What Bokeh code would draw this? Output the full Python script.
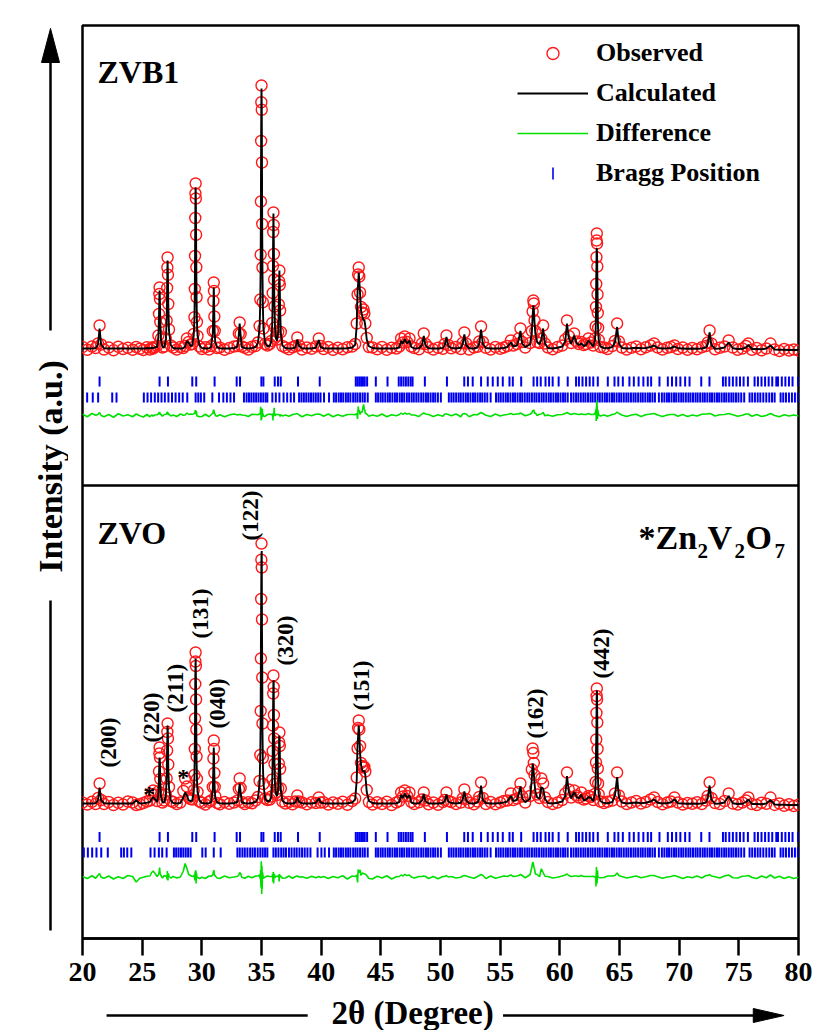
import numpy as np
from bokeh.plotting import figure
from bokeh.layouts import row, column
from bokeh.models import (Range1d, FixedTicker, Span, Label, Legend, LegendItem)
from bokeh.core.properties import value
from bokeh.embed import file_html
from bokeh.resources import INLINE

# ---------------- data ----------------
two_theta = [
    20.0, 20.4, 20.8, 21.1,
    21.30, 21.43, 21.56,
    21.8, 22.2, 22.6, 23.0, 23.4, 23.8, 24.2, 24.5, 24.8, 25.1, 25.4,
    25.65, 25.8, 25.92, 26.05,
    26.25, 26.36, 26.41, 26.44, 26.46, 26.49, 26.52, 26.58, 26.70, 26.85,
    26.98, 27.05, 27.09, 27.11, 27.13, 27.16, 27.19, 27.25, 27.40,
    27.6, 27.9, 28.2,
    28.45, 28.6, 28.75, 28.9, 29.05,
    29.20, 29.32, 29.38, 29.41, 29.43, 29.45, 29.465, 29.48, 29.50, 29.52, 29.54, 29.56, 29.59, 29.64, 29.80,
    30.0, 30.3, 30.6,
    30.78, 30.92, 30.97, 31.00, 31.02, 31.05, 31.08, 31.13, 31.28,
    31.5, 31.9, 32.3, 32.7,
    33.0, 33.1, 33.17, 33.25, 33.35,
    33.6, 33.9, 34.2, 34.5,
    34.70, 34.84, 34.90, 34.93, 34.95, 34.97, 34.985, 35.00, 35.02, 35.04, 35.06, 35.08, 35.11, 35.16, 35.30,
    35.5, 35.7,
    35.82, 35.90, 35.94, 35.96, 35.98, 36.00, 36.02, 36.04, 36.06, 36.09, 36.13, 36.20, 36.30,
    36.40, 36.45, 36.48, 36.50, 36.53, 36.56, 36.62, 36.75,
    37.0, 37.3, 37.6, 37.85,
    38.0, 38.15,
    38.4, 38.8, 39.2, 39.55,
    39.8, 39.95,
    40.2, 40.6, 41.0, 41.4, 41.8, 42.2, 42.6,
    42.85, 42.98, 43.05, 43.10, 43.15, 43.20, 43.26, 43.34, 43.44, 43.55, 43.62, 43.70, 43.82, 44.0,
    44.3, 44.7, 45.1, 45.5, 45.9, 46.3,
    46.55, 46.7, 46.85, 47.0, 47.2, 47.4, 47.55,
    47.8, 48.2,
    48.45, 48.6, 48.75,
    49.0, 49.4, 49.8, 50.2,
    50.35, 50.5, 50.65,
    50.9, 51.3, 51.7,
    51.85, 52.0, 52.15,
    52.4, 52.8, 53.1,
    53.25, 53.4, 53.55,
    53.8, 54.2, 54.6, 55.0, 55.3, 55.6,
    55.9, 56.1, 56.4, 56.55, 56.7, 56.85,
    57.1, 57.5, 57.65, 57.72, 57.78, 57.82, 57.88, 57.95, 58.1, 58.3, 58.45, 58.6, 58.75,
    59.0, 59.4, 59.8, 60.2,
    60.45, 60.6, 60.75, 60.95, 61.2, 61.4, 61.6, 61.8, 62.0, 62.2, 62.4, 62.6,
    62.80, 62.94, 63.00, 63.03, 63.05, 63.07, 63.085, 63.10, 63.12, 63.14, 63.16, 63.18, 63.21, 63.26, 63.40,
    63.7, 64.0, 64.4,
    64.62, 64.8, 64.95,
    65.2, 65.6, 66.0, 66.4, 66.8, 67.2, 67.6, 67.9, 68.2, 68.6, 69.0, 69.3,
    69.6,
    69.9, 70.3, 70.7, 71.1, 71.5, 71.9, 72.25,
    72.4, 72.55, 72.7,
    73.0, 73.4, 73.8,
    74.15,
    74.5, 74.9, 75.3,
    75.6, 75.8,
    76.1, 76.5, 76.9, 77.3,
    77.65,
    78.0, 78.4, 78.8, 79.2, 79.6, 80.0,
]

zvb1_obs = [
    106, 95, 108, 102,
    120, 192, 116,
    96, 104, 93, 107, 98, 103, 95, 106, 99, 94, 105,
    96, 104, 100, 106,
    110, 152, 238, 318, 344, 298, 206, 140, 104, 108,
    140, 212, 342, 424, 464, 395, 278, 176, 112,
    104, 96, 106,
    102, 110, 140, 126, 116,
    118, 158, 225, 338, 470, 622, 720, 760, 700, 555, 425, 305, 206, 150, 108,
    98, 105, 96,
    110, 170, 290, 364, 330, 228, 170, 124, 102,
    104, 95, 102, 108,
    110, 160, 204, 158, 108,
    103, 96, 107, 110,
    124, 190, 296, 475, 688, 930, 1085, 1152, 1055, 844, 598, 424, 285, 180, 118,
    112, 118,
    130, 202, 322, 430, 566, 644, 594, 478, 376, 268, 184, 148, 136,
    166, 276, 368, 412, 354, 252, 166, 110,
    104, 97, 105, 110,
    144, 112,
    96, 104, 99, 108,
    140, 110,
    98, 106, 95, 103, 97, 105, 108,
    118, 200, 316, 396, 424, 388, 324, 266, 244, 256, 240, 200, 142, 106,
    104, 97, 106, 95, 103, 100,
    108, 140, 124, 148, 126, 140, 108,
    102, 97,
    120, 160, 118,
    105, 96, 103, 99,
    118, 152, 114,
    101, 106, 98,
    122, 164, 120,
    96, 104, 107,
    128, 188, 126,
    103, 96, 106, 99, 104, 110,
    132, 112, 118, 140, 180, 126,
    104, 122, 170, 248, 292, 280, 212, 170, 126, 122, 140, 192, 120,
    104, 97, 106, 112,
    136, 212, 150, 122, 160, 128, 118, 126, 114, 118, 140, 124,
    112, 140, 188, 266, 358, 465, 532, 560, 520, 428, 316, 242, 182, 134, 106,
    104, 98, 110,
    130, 200, 128,
    104, 96, 103, 108, 97, 105, 112, 120, 104, 96, 103, 106,
    112,
    98, 104, 95, 102, 97, 105, 110,
    124, 172, 120,
    97, 103, 108,
    132,
    104, 95, 100,
    110, 120,
    95, 102, 93, 100,
    120,
    96, 90, 98, 92, 96, 92,
]

zvb1_calc = [
    100, 100, 100, 101,
    116, 180, 116,
    101, 100, 100, 100, 100, 100, 100, 100, 100, 100, 101,
    101, 102, 102, 104,
    107, 146, 228, 304, 332, 286, 204, 135, 107, 104,
    135, 206, 329, 410, 452, 382, 276, 170, 114,
    102, 100, 100,
    101, 108, 130, 122, 110,
    113, 152, 216, 325, 454, 602, 699, 744, 680, 551, 409, 293, 209, 152, 113,
    102, 100, 101,
    107, 161, 271, 344, 307, 222, 161, 124, 105,
    101, 100, 100, 102,
    108, 156, 200, 154, 106,
    102, 100, 102, 106,
    121, 183, 287, 440, 672, 950, 1067, 1140, 1070, 828, 570, 412, 277, 183, 121,
    108, 112,
    127, 197, 316, 450, 559, 640, 586, 478, 345, 262, 186, 143, 132,
    162, 272, 365, 412, 350, 256, 162, 112,
    102, 100, 101, 104,
    136, 110,
    101, 100, 100, 103,
    134, 106,
    101, 100, 100, 100, 100, 101, 104,
    115, 191, 330, 360, 404, 368, 320, 252, 230, 212, 214, 190, 136, 109,
    102, 100, 100, 100, 100, 101,
    104, 130, 120, 138, 120, 132, 106,
    100, 101,
    114, 150, 112,
    101, 100, 100, 102,
    112, 146, 110,
    102, 100, 103,
    116, 156, 114,
    101, 100, 104,
    120, 176, 118,
    102, 100, 100, 101, 102, 106,
    124, 108, 112, 134, 170, 120,
    105, 117, 160, 229, 272, 258, 203, 160, 126, 117, 134, 180, 121,
    102, 100, 103, 108,
    128, 200, 142, 118, 152, 122, 114, 120, 110, 114, 132, 120,
    108, 132, 172, 240, 380, 430, 500, 500, 480, 400, 330, 220, 168, 132, 108,
    102, 101, 106,
    124, 186, 120,
    102, 100, 101, 103, 101, 102, 106, 112, 102, 100, 101, 102,
    108,
    101, 100, 99, 100, 99, 100, 104,
    118, 164, 114,
    99, 100, 104,
    124,
    101, 98, 99,
    104, 114,
    98, 98, 97, 100,
    112,
    96, 95, 95, 94, 94, 94,
]

zvo_obs = [
    104, 96, 107, 98,
    122, 180, 114,
    98, 106, 94, 103, 96, 108, 104, 94, 97, 102, 108,
    112, 138, 152, 136,
    110, 148, 228, 300, 324, 284, 198, 136, 104, 112,
    136, 200, 312, 386, 420, 360, 256, 166, 110,
    106, 98, 104,
    150, 200, 168, 124, 118,
    116, 152, 214, 318, 440, 578, 668, 704, 650, 516, 396, 288, 198, 146, 108,
    103, 96, 107,
    112, 166, 280, 352, 318, 222, 166, 128, 102,
    97, 106, 99, 104,
    112, 158, 200, 162, 106,
    98, 105, 101, 112,
    126, 190, 294, 470, 680, 918, 1075, 1140, 1044, 836, 604, 420, 282, 178, 120,
    114, 116,
    128, 196, 310, 412, 540, 612, 566, 454, 360, 258, 178, 144, 134,
    160, 260, 344, 384, 330, 238, 160, 108,
    100, 106, 97, 108,
    132, 108,
    104, 97, 105, 102,
    124, 104,
    105, 96, 104, 99, 107, 95, 110,
    120, 204, 320, 402, 432, 396, 330, 262, 250, 244, 246, 228, 154, 106,
    96, 105, 98, 107, 94, 104,
    110, 144, 128, 152, 130, 144, 106,
    98, 105,
    116, 144, 112,
    97, 104, 95, 106,
    114, 144, 110,
    106, 98, 104,
    120, 156, 118,
    103, 97, 108,
    126, 184, 122,
    98, 106, 97, 104, 110, 112,
    140, 114, 120, 146, 180, 128,
    104, 130, 236, 320, 302, 262, 214, 162, 136, 122, 200, 180, 124,
    106, 98, 104, 114,
    140, 224, 156, 124, 152, 132, 124, 144, 116, 120, 130, 126,
    114, 138, 186, 264, 356, 462, 530, 560, 516, 424, 318, 240, 180, 136, 108,
    102, 107, 112,
    140, 224, 132,
    108, 98, 104, 110, 100, 106, 116, 124, 106, 97, 104, 108,
    124,
    104, 96, 102, 99, 105, 98, 112,
    130, 184, 122,
    102, 98, 110,
    140,
    100, 96, 104,
    112, 124,
    98, 94, 103, 99,
    124,
    94, 100, 91, 97, 90, 95,
]

zvo_calc = [
    100, 100, 100, 101,
    113, 164, 113,
    101, 100, 100, 100, 100, 100, 100, 112, 100, 101, 103,
    106, 118, 126, 118,
    106, 137, 210, 270, 284, 262, 183, 128, 106, 104,
    131, 194, 320, 360, 412, 372, 240, 162, 112,
    102, 100, 102,
    124, 144, 132, 112, 110,
    112, 146, 204, 330, 419, 590, 639, 680, 622, 540, 378, 274, 199, 146, 112,
    102, 100, 101,
    107, 156, 257, 324, 290, 212, 156, 122, 104,
    101, 100, 100, 102,
    107, 148, 180, 146, 105,
    101, 100, 102, 106,
    120, 180, 300, 440, 720, 880, 1010, 1100, 1110, 790, 650, 400, 270, 182, 118,
    108, 112,
    125, 189, 297, 430, 518, 592, 590, 444, 346, 248, 179, 139, 130,
    154, 250, 360, 372, 318, 236, 154, 111,
    102, 100, 100, 104,
    126, 106,
    101, 100, 100, 103,
    120, 104,
    101, 100, 100, 100, 100, 101, 104,
    116, 194, 340, 370, 412, 374, 300, 254, 232, 228, 232, 214, 146, 110,
    102, 100, 100, 100, 100, 101,
    106, 134, 122, 140, 122, 134, 104,
    100, 101,
    112, 138, 108,
    101, 100, 100, 102,
    110, 136, 108,
    102, 100, 103,
    114, 148, 112,
    101, 100, 104,
    118, 172, 114,
    102, 100, 100, 102, 104, 108,
    130, 110, 114, 138, 168, 120,
    105, 119, 196, 260, 244, 220, 180, 148, 124, 119, 165, 160, 119,
    102, 100, 103, 108,
    130, 210, 148, 120, 146, 126, 120, 136, 112, 116, 126, 122,
    109, 136, 181, 300, 349, 420, 520, 552, 540, 416, 290, 236, 177, 136, 109,
    102, 101, 106,
    132, 206, 124,
    104, 100, 102, 104, 101, 103, 108, 116, 103, 100, 102, 104,
    116,
    101, 100, 99, 100, 99, 100, 104,
    122, 172, 116,
    99, 100, 104,
    130,
    101, 98, 99,
    106, 116,
    98, 98, 97, 100,
    114,
    96, 95, 95, 94, 94, 94,
]

# Bragg positions (upper row, common to both samples)
bragg_main = [
    21.43, 26.46, 27.16, 29.20, 29.53, 31.07, 32.92, 33.20, 34.99, 35.16, 36.11, 36.38, 36.61,
    38.06, 39.88, 42.90, 43.05, 43.20, 43.35, 43.50, 43.65, 43.85, 44.58, 45.56, 46.50, 46.70,
    46.90, 47.10, 47.30, 47.50, 47.66, 48.69, 50.54, 51.99, 52.30, 52.70, 53.40, 53.96, 54.38,
    54.80, 55.22, 55.78, 56.06, 56.76, 57.80, 58.10, 58.40, 58.80, 59.10, 59.40, 59.90, 60.66,
    61.36, 61.60, 61.90, 62.20, 62.50, 62.80, 63.18, 64.02, 64.58, 64.90, 65.28, 65.83, 66.20,
    66.60, 67.00, 67.37, 67.65, 68.35, 69.05, 69.40, 69.75, 70.10, 70.50, 70.87, 71.85, 72.54,
    73.67, 73.90, 74.20, 74.50, 74.80, 75.10, 75.40, 75.76, 76.32, 76.60, 76.90, 77.20, 77.50,
    77.80, 78.14, 78.28, 78.60, 78.90, 79.20, 79.50, 79.96,
]
# lower row, low-angle part, per sample
zvb1_bragg2_low = [
    20.39, 20.86, 21.31, 22.49, 22.85, 25.14, 25.45, 25.75, 26.06, 26.34, 26.62, 26.90, 27.20,
    27.50, 27.80, 28.10, 28.40, 28.78, 29.48, 29.70, 29.92, 30.20, 30.88, 31.44, 31.80, 32.10,
    32.40, 32.70, 33.53, 33.75, 33.95, 34.15, 34.35, 34.55, 34.75, 34.95, 35.15, 35.35, 35.49,
    35.91, 36.20, 36.50, 36.85, 37.15, 37.45, 37.73, 38.15, 38.35, 38.55, 38.75, 38.95, 39.15,
    39.35, 39.55, 39.75, 39.95, 40.24, 40.66,
]
zvo_bragg2_low = [
    20.11, 20.45, 20.81, 21.17, 21.57, 22.12, 23.24, 23.47, 23.75, 24.09, 25.70, 26.04, 26.40,
    26.68, 27.05, 27.66, 27.85, 28.05, 28.25, 28.45, 28.65, 28.85, 29.06, 30.04, 30.32, 31.00,
    31.58, 32.98, 33.18, 33.40, 33.60, 33.82, 34.05, 34.25, 34.45, 34.68, 34.90, 35.10, 35.30,
    35.49, 36.00, 36.20, 36.42, 36.65, 36.85, 37.05, 37.30, 37.52, 37.75, 37.95, 38.18, 38.40,
    38.62, 38.85, 39.10, 39.70, 40.02, 40.30, 40.66,
]
# lower row, high-angle part (common)
bragg2_high = [
    41.06, 41.25, 41.47, 41.66, 41.85, 42.07, 42.26, 42.45, 42.68, 42.87, 43.05, 43.26, 43.47,
    43.66, 43.90, 44.58, 44.77, 44.98, 45.16, 45.37, 45.58, 45.76, 45.97, 46.18, 46.36, 46.58,
    46.77, 46.96, 47.18, 47.37, 47.58, 47.76, 47.97, 48.16, 48.38, 48.57, 48.78, 48.96, 49.17,
    49.38, 49.56, 49.78, 50.03, 50.70, 50.91, 51.10, 51.31, 51.52, 51.70, 51.91, 52.12, 52.30,
    52.51, 52.72, 52.90, 53.11, 53.32, 53.50, 53.71, 53.92, 54.20, 54.65, 54.86, 55.05, 55.26,
    55.47, 55.65, 55.86, 56.07, 56.25, 56.46, 56.67, 56.85, 57.06, 57.27, 57.45, 57.66, 57.87,
    58.05, 58.26, 58.47, 58.65, 58.86, 59.07, 59.25, 59.46, 59.67, 59.85, 60.06, 60.27, 60.45,
    60.66, 60.94, 61.15, 61.36, 61.55, 61.76, 61.97, 62.15, 62.36, 62.57, 62.75, 62.96, 63.17,
    63.35, 63.56, 63.77, 63.95, 64.16, 64.37, 64.55, 64.76, 64.97, 65.15, 65.36, 65.57, 65.75,
    65.96, 66.17, 66.35, 66.56, 66.77, 66.95, 67.16, 67.37, 67.55, 67.76, 67.97, 68.30, 68.55,
    68.76, 68.97, 69.15, 69.36, 69.57, 69.75, 69.96, 70.17, 70.35, 70.56, 70.77, 70.95, 71.16,
    71.37, 71.55, 71.76, 71.97, 72.15, 72.36, 72.57, 72.75, 72.96, 73.17, 73.35, 73.56, 73.77,
    73.95, 74.16, 74.37, 74.55, 74.76, 74.97, 75.20, 75.45, 75.90, 76.12, 76.35, 76.58, 76.80,
    77.05, 77.30, 77.55, 77.78, 78.00, 78.50, 78.72, 78.95, 79.20, 79.45, 79.70, 79.95,
]

hkl_labels = ["(200)", "(220)", "(211)", "(131)", "(040)", "(122)", "(320)", "(151)", "(162)", "(442)"]
hkl_tth = [21.43, 26.46, 27.13, 29.48, 31.00, 35.00, 36.00, 43.15, 57.72, 63.10]
hkl_height = [180, 324, 420, 704, 352, 1140, 612, 432, 320, 560]
star_tth = [25.92, 28.6]
star_height = [152, 200]

x_ticks = [20, 25, 30, 35, 40, 45, 50, 55, 60, 65, 70, 75, 80]

# ---------------- layout / style ----------------
FONT = "Liberation Serif"
LEFT_W = 68                 # strip holding the y title
TOTAL_H = 1030
FRAME_L, FRAME_R = 82, 798  # frame edges in page pixels
FRAME_T, FRAME_B = 25, 938
BL = FRAME_L - LEFT_W       # 14
BR = 14
BB = 58
MAIN_W = BL + (FRAME_R - FRAME_L) + BR
MAIN_H = FRAME_T + (FRAME_B - FRAME_T) + BB
FRAME_W = FRAME_R - FRAME_L
FRAME_H = FRAME_B - FRAME_T

def X(px):   # page x pixel -> data x
    return 20 + (px - FRAME_L) * 60.0 / FRAME_W
def Y(py):   # page y pixel -> data y (1 unit = 1 px)
    return FRAME_B - py

SCALE = 0.25   # px per intensity unit
BG = 100
TOP = dict(obs=Y(348), b1=Y(381), b2=Y(397), diff=Y(415))
BOT = dict(obs=Y(803), b1=Y(836.5), b2=Y(852), diff=Y(877))

hkl_dx = [9, -8, 8, 5, 4, -11, 12, 3, 3, 5]
hkl_dy = [-16, -5, -11, -14, -12, -3, -10, -10, -10, -10]
star_dx = [-4, -2]
star_dy = [3.5, -1.5]
BLUE = "#0000F0"
GREEN = "#00E000"
RED = "#FF1A1A"

p = figure(width=MAIN_W, height=MAIN_H, x_range=Range1d(20, 80), y_range=Range1d(0, FRAME_H),
           output_backend="svg", toolbar_location=None,
           min_border_left=BL, min_border_right=BR, min_border_top=FRAME_T, min_border_bottom=BB)
p.background_fill_color = "white"
p.border_fill_color = "white"
p.grid.visible = False
p.yaxis.visible = False
p.outline_line_color = "black"
p.outline_line_width = 2.5
p.outline_line_alpha = 1.0

ax = p.xaxis[0]
ax.ticker = FixedTicker(ticks=x_ticks)
ax.axis_line_width = 2.5
ax.axis_line_color = "black"
ax.major_tick_line_width = 2.5
ax.major_tick_line_color = "black"
ax.major_tick_out = 17
ax.major_tick_in = 0
ax.minor_tick_line_color = None
ax.major_label_text_font = FONT
ax.major_label_text_font_style = "bold"
ax.major_label_text_font_size = "28px"
ax.major_label_text_color = "black"
ax.major_label_standoff = 7

n = min(len(two_theta), len(zvb1_obs), len(zvb1_calc), len(zvo_obs), len(zvo_calc))
tth = two_theta[:n]

def prof(vals, base):
    return [base + (v - BG) * SCALE for v in vals[:n]]

renders = {}
for name, obs, calc, low, pos in [("top", zvb1_obs, zvb1_calc, zvb1_bragg2_low, TOP),
                                  ("bot", zvo_obs, zvo_calc, zvo_bragg2_low, BOT)]:
    p.scatter(bragg_main, [pos["b1"]] * len(bragg_main), marker="dash", angle=np.pi / 2,
              size=10, line_color=BLUE, line_width=2)
    row2 = low + bragg2_high
    p.scatter(row2, [pos["b2"]] * len(row2), marker="dash", angle=np.pi / 2,
              size=10, line_color=BLUE, line_width=2)
    diff = [o - c for o, c in zip(obs[:n], calc[:n])]
    d = p.line(tth, [pos["diff"] + v * SCALE for v in diff], line_color=GREEN, line_width=1.6)
    o = p.scatter(tth, prof(obs, pos["obs"]), marker="circle", size=11, fill_color=None,
                  line_color=RED, line_width=1.4)
    c = p.line(tth, prof(calc, pos["obs"]), line_color="black", line_width=1.9)
    renders[name] = (o, c, d)

# panel separator
p.add_layout(Span(location=Y(485), dimension="width", line_color="black", line_width=2.5))

# legend (the Bragg key is drawn as a vertical tick, since legend markers are not rotated)
o, c, d = renders["top"]
bragg_key = p.scatter([], [], marker="dash", size=10, line_color=BLUE, line_alpha=0)
legend = Legend(items=[LegendItem(label="Observed", renderers=[o]),
                       LegendItem(label="Calculated", renderers=[c]),
                       LegendItem(label="Difference", renderers=[d]),
                       LegendItem(label="Bragg Position", renderers=[bragg_key])],
                location=(517 - FRAME_L, FRAME_H - (38 - FRAME_T) - 150))
legend.label_text_font = FONT
legend.label_text_font_style = "bold"
legend.label_text_font_size = "26px"
legend.label_text_color = "black"
legend.glyph_width = 71
legend.glyph_height = 30
legend.label_height = 30
legend.label_standoff = 8
legend.spacing = 10
legend.padding = 0
legend.margin = 0
legend.border_line_color = None
legend.background_fill_alpha = 0
p.add_layout(legend)
p.scatter([X(552.5)], [Y(173)], marker="dash", angle=np.pi / 2, size=12,
          line_color=BLUE, line_width=1.6)

def lab(text, px, py, size, align="left", baseline="alphabetic", angle=0.0):
    p.add_layout(Label(x=X(px), y=Y(py), text=text, text_font=FONT, text_font_style="bold",
                       text_font_size=size, text_align=align, text_baseline=baseline,
                       angle=angle, text_color="black"))

lab("ZVB1", 97, 71, "32px")
lab("ZVO", 97, 532, "32px")
# *Zn2V2O7
lab("*Zn", 638, 537, "34px")
lab("2", 697, 550, "21px")
lab("V", 707, 537, "34px")
lab("2", 734, 550, "21px")
lab("O", 745, 537, "34px")
lab("7", 774, 550, "21px")

# hkl labels and impurity stars (bottom panel)
p.text(x=hkl_tth, y=[BOT["obs"] + (h - BG) * SCALE for h in hkl_height], text=hkl_labels,
       angle=np.pi / 2, text_align="left", text_baseline="middle",
       x_offset=hkl_dx, y_offset=hkl_dy, text_font=value(FONT), text_font_style="bold",
       text_font_size="23px", text_color="black")
p.text(x=star_tth, y=[BOT["obs"] + (h - BG) * SCALE for h in star_height], text=["*", "*"],
       text_align="center", text_baseline="alphabetic", x_offset=star_dx, y_offset=star_dy,
       text_font=value(FONT), text_font_style="bold", text_font_size="24px", text_color="black")

# ---- strips for the axis titles with arrows (page-pixel coordinates) ----
def strip(width, height, x0, x1, y_top, y_bottom):
    f = figure(width=width, height=height, x_range=Range1d(x0, x1), y_range=Range1d(y_bottom, y_top),
               output_backend="svg", toolbar_location=None,
               min_border=0, min_border_left=0, min_border_right=0,
               min_border_top=0, min_border_bottom=0)
    f.axis.visible = False
    f.grid.visible = False
    f.outline_line_color = None
    f.background_fill_color = "white"
    f.border_fill_color = "white"
    return f

left = strip(LEFT_W, TOTAL_H, 0, LEFT_W, 0, TOTAL_H)
left.text(x=[50], y=[466], text=["Intensity (a.u.)"], angle=np.pi / 2, text_align="center",
          text_baseline="middle", text_font=value(FONT), text_font_style="bold",
          text_font_size="34px", text_color="black")
left.segment(x0=[50, 50], y0=[330, 600], x1=[50, 50], y1=[60, 930], line_color="black", line_width=2.5)
left.patch(x=[41, 59, 50], y=[62, 62, 28], fill_color="black", line_color="black")

bottom = strip(MAIN_W, TOTAL_H - MAIN_H, LEFT_W, LEFT_W + MAIN_W, MAIN_H, TOTAL_H)
bottom.text(x=[411], y=[1012], text=["2θ (Degree)"], text_align="center", text_baseline="middle",
            text_font=value(FONT), text_font_style="bold", text_font_size="33px", text_color="black")
bottom.segment(x0=[93, 505], y0=[1015, 1015], x1=[302, 768], y1=[1015, 1015],
               line_color="black", line_width=2.5)
bottom.patch(x=[765, 765, 797], y=[1008, 1022, 1015], fill_color="black", line_color="black")

layout = row(left, column(p, bottom, spacing=0), spacing=0)
open("out.html", "w").write(file_html(layout, INLINE))
